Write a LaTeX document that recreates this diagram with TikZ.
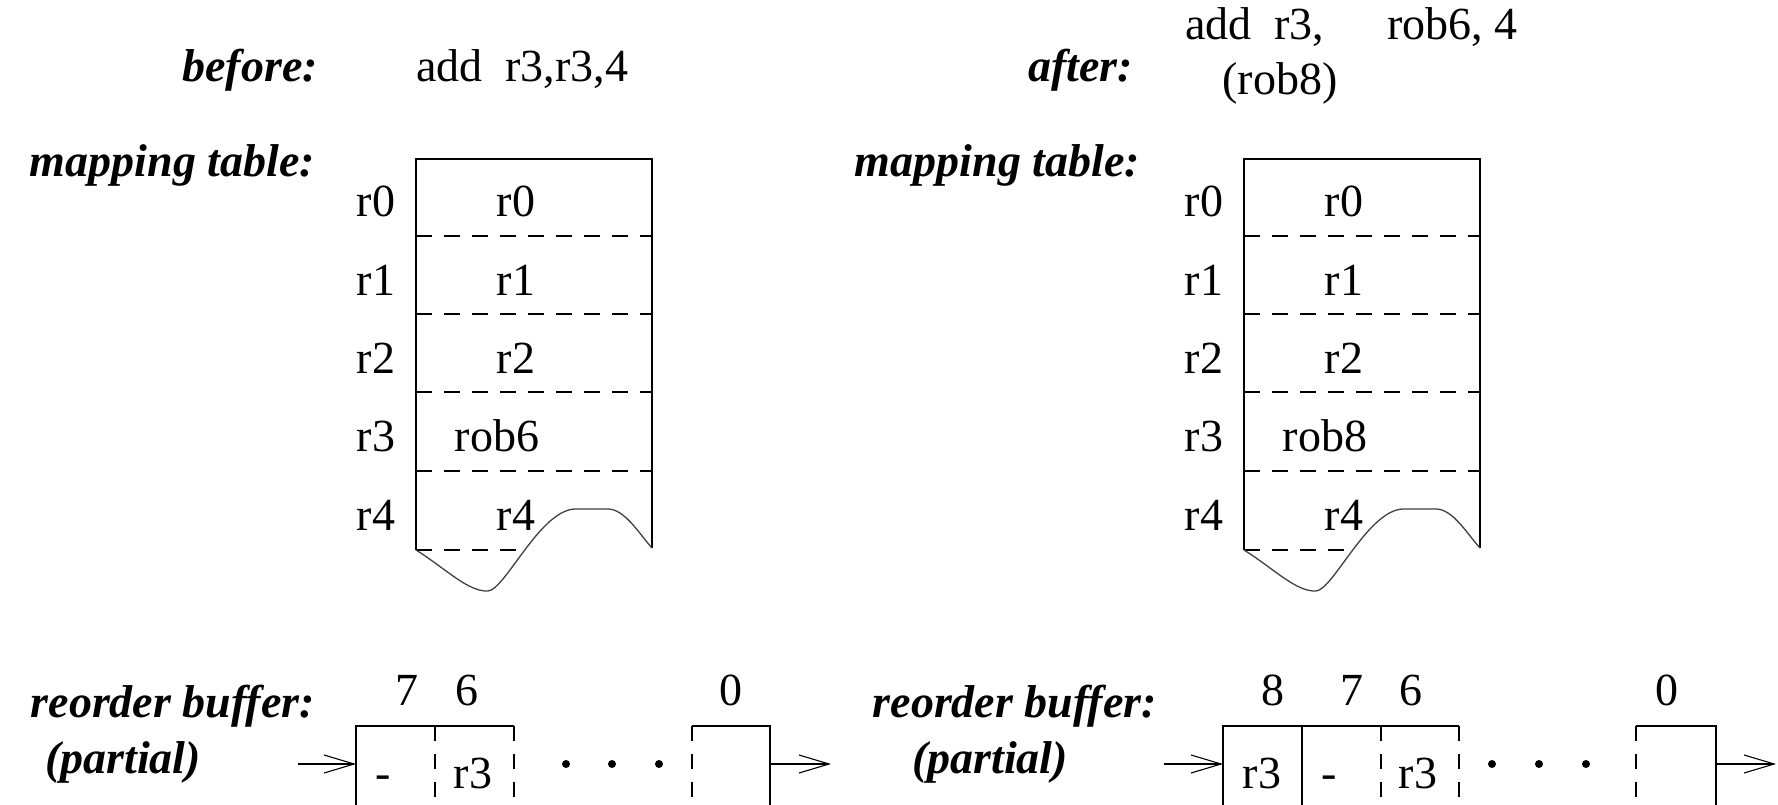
\documentclass[tikz,border=0pt]{standalone}
\usepackage{fontspec}
\setmainfont{Liberation Serif}
\usetikzlibrary{arrows.meta}
\begin{document}
\begin{tikzpicture}[x=1pt,y=-1pt,
  every node/.style={inner sep=0pt, font=\fontsize{46}{55}\selectfont},
  lbl/.style={font=\fontsize{46}{55}\selectfont\bfseries\itshape},
  ln/.style={line width=1.6pt},
  dsh/.style={line width=1.6pt, dash pattern=on 16pt off 12pt},
  vdsh/.style={line width=1.6pt, dash pattern=on 15pt off 13pt},
  wave/.style={line width=1.3pt, black!75},
  arr/.style={line width=1.6pt, -{Straight Barb[length=30pt,width=18pt,line width=1.1pt]}},
  dot/.style={circle, fill=black, minimum size=8pt, inner sep=0pt}]
\useasboundingbox (0,0) rectangle (1778,805);

% ---------- top labels ----------
\node[lbl, anchor=base east] (before) at (318,82) {before:};
\node[anchor=base west] (instrL) at (416,82) {add\ \ r3,r3,4};
\node[lbl, anchor=base east] (after) at (1133,82) {after:};
\node[anchor=base west] (instrR1) at (1185,40) {add\ \ r3,};
\node[anchor=base west] (instrR2) at (1387,40) {rob6, 4};
\node[anchor=base] (instrR3) at (1280,95) {(rob8)};
\node[lbl, anchor=base east] (mapL) at (315,177) {mapping table:};
\node[lbl, anchor=base east] (mapR) at (1140,177) {mapping table:};

% ---------- left mapping table ----------
\draw[ln] (416,550) -- (416,159) -- (652,159) -- (652,548);
\foreach \y in {236,314,392,471} \draw[dsh] (416,\y) -- (652,\y);
\draw[dsh] (416,550) -- (527,550);
\draw[wave] (416,550) .. controls (445,568) and (468,592) .. (488,591)
  .. controls (505,590) and (540,510) .. (575,509) -- (608,509)
  .. controls (625,509) and (640,535) .. (652,548);
\foreach \i/\y in {0/217,1/295,2/373,3/451.5,4/530}
  \node[anchor=base] (lrow\i) at (376,\y) {r\i};
\node[anchor=base] (lc0) at (516,217) {r0};
\node[anchor=base] (lc1) at (516,295) {r1};
\node[anchor=base] (lc2) at (516,373) {r2};
\node[anchor=base] (lc3) at (497,451.5) {rob6};
\node[anchor=base] (lc4) at (516,530) {r4};

% ---------- right mapping table ----------
\draw[ln] (1244,550) -- (1244,159) -- (1480,159) -- (1480,548);
\foreach \y in {236,314,392,471} \draw[dsh] (1244,\y) -- (1480,\y);
\draw[dsh] (1244,550) -- (1355,550);
\draw[wave] (1244,550) .. controls (1273,568) and (1296,592) .. (1316,591)
  .. controls (1333,590) and (1368,510) .. (1403,509) -- (1436,509)
  .. controls (1453,509) and (1468,535) .. (1480,548);
\foreach \i/\y in {0/217,1/295,2/373,3/451.5,4/530}
  \node[anchor=base] (rrow\i) at (1204,\y) {r\i};
\node[anchor=base] (rc0) at (1344,217) {r0};
\node[anchor=base] (rc1) at (1344,295) {r1};
\node[anchor=base] (rc2) at (1344,373) {r2};
\node[anchor=base] (rc3) at (1325,451.5) {rob8};
\node[anchor=base] (rc4) at (1344,530) {r4};

% ---------- left reorder buffer ----------
\node[lbl, anchor=base east] (robL) at (315,717) {reorder buffer:};
\node[lbl, anchor=base] (partL) at (123,773) {(partial)};
\node[anchor=base] (n7L) at (407,705) {7};
\node[anchor=base] (n6L) at (467,705) {6};
\node[anchor=base] (n0L) at (731,705) {0};
\draw[ln] (356,805) -- (356,726) -- (514,726);
\draw[vdsh] (435,726) -- (435,805);
\draw[vdsh] (514,726) -- (514,805);
\node[anchor=base] (bL1) at (383,788) {-};
\node[anchor=base] (bL2) at (473,788) {r3};
\node[dot] (dL1) at (566,764) {};
\node[dot] (dL2) at (612,764) {};
\node[dot] (dL3) at (659,764) {};
\draw[vdsh] (692,726) -- (692,805);
\draw[ln] (692,726) -- (770,726) -- (770,805);
\coordinate (inL) at (298,764);
\coordinate (boxLin) at (356,764);
\coordinate (boxLout) at (770,764);
\coordinate (outL) at (831,764);
\draw[arr] (inL) -- (boxLin);
\draw[arr] (boxLout) -- (outL);

% ---------- right reorder buffer ----------
\node[lbl, anchor=base east] (robR) at (1157,717) {reorder buffer:};
\node[lbl, anchor=base] (partR) at (990,773) {(partial)};
\node[anchor=base] (n8R) at (1273,705) {8};
\node[anchor=base] (n7R) at (1352,705) {7};
\node[anchor=base] (n6R) at (1411,705) {6};
\node[anchor=base] (n0R) at (1667,705) {0};
\draw[ln] (1223,805) -- (1223,726) -- (1459,726);
\draw[ln] (1302,726) -- (1302,805);
\draw[vdsh] (1381,726) -- (1381,805);
\draw[vdsh] (1459,726) -- (1459,805);
\node[anchor=base] (bR1) at (1262,788) {r3};
\node[anchor=base] (bR2) at (1329,788) {-};
\node[anchor=base] (bR3) at (1418,788) {r3};
\node[dot] (dR1) at (1492,764) {};
\node[dot] (dR2) at (1539,764) {};
\node[dot] (dR3) at (1586,764) {};
\draw[vdsh] (1636,726) -- (1636,805);
\draw[ln] (1636,726) -- (1716,726) -- (1716,805);
\coordinate (inR) at (1164,764);
\coordinate (boxRin) at (1223,764);
\coordinate (boxRout) at (1716,764);
\coordinate (outR) at (1776,764);
\draw[arr] (inR) -- (boxRin);
\draw[arr] (boxRout) -- (outR);
\end{tikzpicture}
\end{document}
